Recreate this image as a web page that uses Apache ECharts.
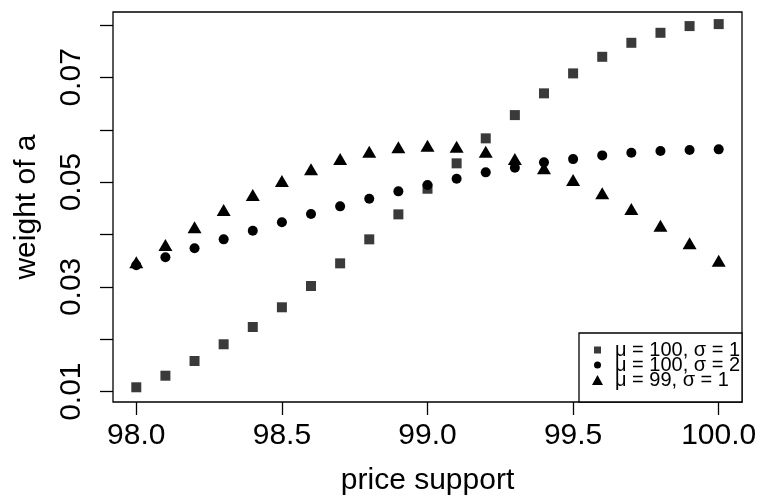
<!DOCTYPE html>
<html><head><meta charset="utf-8">
<script src="https://cdn.jsdelivr.net/npm/echarts@6/dist/echarts.min.js"></script>
<style>html,body{margin:0;padding:0;background:#fff}#c{width:758px;height:503px}</style>
</head><body><div id="c"></div>
<script>
// ---- data ----
const priceSupport = [98.0, 98.1, 98.2, 98.3, 98.4, 98.5, 98.6, 98.7, 98.8, 98.9, 99.0,
                      99.1, 99.2, 99.3, 99.4, 99.5, 99.6, 99.7, 99.8, 99.9, 100.0];
const mu100sigma1 = [0.01084, 0.01305, 0.01586, 0.01905, 0.02235, 0.02611, 0.03017, 0.0345, 0.03908, 0.04385, 0.04874,
                     0.05359, 0.05836, 0.0628, 0.06695, 0.07076, 0.07393, 0.0766, 0.07851, 0.07979, 0.08017];
const mu100sigma2 = [0.03415, 0.03565, 0.03737, 0.03908, 0.04073, 0.04233, 0.04391, 0.04538, 0.04683, 0.04824, 0.04945,
                     0.05065, 0.05187, 0.05275, 0.05378, 0.0544, 0.05511, 0.05561, 0.05594, 0.05613, 0.05626];
const mu99sigma1 = [0.0347, 0.038, 0.04137, 0.04468, 0.04754, 0.05021, 0.05244, 0.0544, 0.0558, 0.05664, 0.05695,
                    0.05676, 0.0558, 0.05441, 0.05263, 0.0504, 0.04786, 0.04487, 0.04168, 0.03832, 0.0350];
const seriesNames = ['\u03bc = 100, \u03c3 = 1', '\u03bc = 100, \u03c3 = 2', '\u03bc = 99, \u03c3 = 1'];
const xTickValues = [98.0, 98.5, 99.0, 99.5, 100.0];
const yTickValues = [0.01, 0.02, 0.03, 0.04, 0.05, 0.06, 0.07, 0.08];
const yLabelValues = [0.01, 0.03, 0.05, 0.07];
const xAxisTitle = 'price support';
const yAxisTitle = 'weight of a';

// ---- chart ----
const FONT = 'Liberation Sans, Arial, Helvetica, sans-serif';
const chart = echarts.init(document.getElementById('c'), null, {renderer: 'canvas'});
function pairs(xs, ys) { return xs.map((x, i) => [x, ys[i]]); }

const option = {
  backgroundColor: '#fff',
  animation: false,
  grid: {left: 113, right: 16, top: 12, bottom: 101, show: true, borderColor: '#000', borderWidth: 1.3,
         containLabel: false, outerBoundsMode: 'none'},
  xAxis: {
    type: 'value', min: 97.92, max: 100.08,
    name: xAxisTitle, nameLocation: 'middle', nameGap: 64,
    nameTextStyle: {fontFamily: FONT, fontSize: 30, color: '#000'},
    axisLine: {show: false},
    splitLine: {show: false},
    axisTick: {show: true, inside: false, length: 13, customValues: xTickValues, lineStyle: {color: '#000', width: 1.3}},
    axisLabel: {show: true, customValues: xTickValues, margin: 19, fontFamily: FONT, fontSize: 30, color: '#000',
                formatter: v => v.toFixed(1)}
  },
  yAxis: {
    type: 'value', min: 0.00803, max: 0.08248,
    name: yAxisTitle, nameLocation: 'middle', nameGap: 71, nameRotate: 90,
    nameTextStyle: {fontFamily: FONT, fontSize: 30, color: '#000'},
    axisLine: {show: false},
    splitLine: {show: false},
    axisTick: {show: true, inside: false, length: 13, customValues: yTickValues, lineStyle: {color: '#000', width: 1.3}},
    axisLabel: {show: true, customValues: yLabelValues, rotate: 90, margin: 26, fontFamily: FONT, fontSize: 30, color: '#000',
                formatter: v => v.toFixed(2)}
  },
  legend: {
    orient: 'vertical', left: 592, top: 340, padding: 0, itemGap: -5,
    itemWidth: 11, itemHeight: 10,
    textStyle: {fontFamily: FONT, fontSize: 20, lineHeight: 15, color: '#000', padding: [0, 0, 0, 7]},
    selectedMode: false,
    data: [
      {name: seriesNames[0], icon: 'path://M0,0M2,1.5h7v7h-7zM11,10'},
      {name: seriesNames[1], icon: 'path://M0,0M9,5A3.5,3.5 0 1 1 2,5A3.5,3.5 0 1 1 9,5ZM11,10'},
      {name: seriesNames[2], icon: 'path://M0,0M5.5,0L11,10L0,10Z'}
    ]
  },
  graphic: [
    {type: 'rect', z: 1, shape: {x: 579, y: 333, width: 163, height: 69},
     style: {fill: '#fff', stroke: '#000', lineWidth: 1.3}},
    {type: 'rect', z: 100, shape: {x: 743.5, y: 320, width: 20, height: 90},
     style: {fill: '#fff', stroke: null}}
  ],
  series: [
    {type: 'scatter', name: seriesNames[0], symbol: 'rect', symbolSize: 10, z: 2,
     itemStyle: {color: '#3a3a3a', opacity: 1}, data: pairs(priceSupport, mu100sigma1)},
    {type: 'scatter', name: seriesNames[1], symbol: 'circle', symbolSize: 10, z: 3,
     itemStyle: {color: '#000', opacity: 1}, data: pairs(priceSupport, mu100sigma2)},
    {type: 'scatter', name: seriesNames[2], symbol: 'triangle', symbolSize: [14, 12], z: 4,
     itemStyle: {color: '#000', opacity: 1}, data: pairs(priceSupport, mu99sigma1)}
  ]
};
chart.setOption(option);
</script>
</body></html>
